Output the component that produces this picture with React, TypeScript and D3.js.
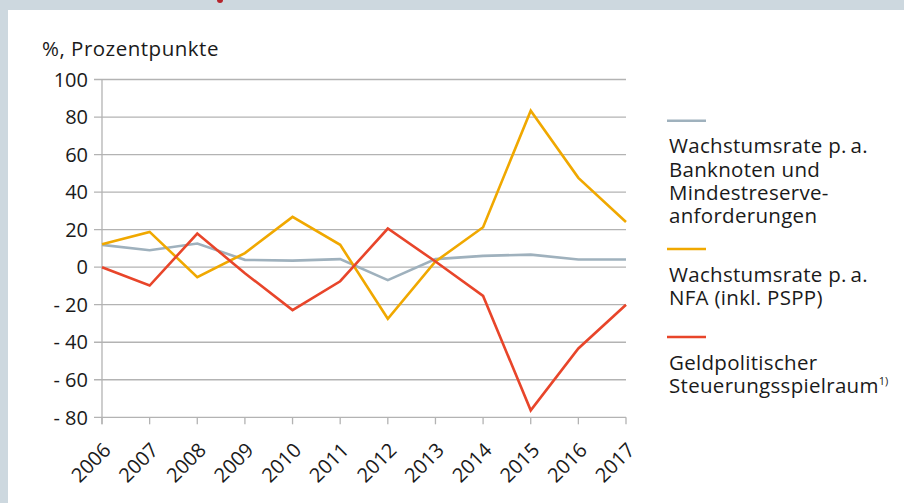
import React from "react";
import * as d3 from "d3";

const years = [2006, 2007, 2008, 2009, 2010, 2011, 2012, 2013, 2014, 2015, 2016, 2017];
const banknoten = [11.9, 9.0, 12.6, 3.9, 3.5, 4.3, -6.9, 4.3, 6.0, 6.7, 4.1, 4.1];
const nfa = [12.2, 18.8, -5.3, 7.5, 26.8, 11.9, -27.5, 3.0, 21.3, 83.4, 47.6, 24.1];
const spielraum = [0, -9.8, 17.9, -3.2, -22.9, -7.5, 20.6, 3.0, -15.3, -76.3, -43.3, -20.0];
const yTicks = [100, 80, 60, 40, 20, 0, -20, -40, -60, -80];

const series = [
  { name: ["Wachstumsrate p.\u2009a.", "Banknoten und", "Mindestreserve-", "anforderungen"], values: banknoten, color: "#9fb1bd" },
  { name: ["Wachstumsrate p.\u2009a.", "NFA (inkl. PSPP)"], values: nfa, color: "#f0a800" },
  { name: ["Geldpolitischer", "Steuerungsspielraum"], values: spielraum, color: "#e8452a", sup: "1)" },
];

const W = 904;
const H = 503;
const font = "'Open Sans', 'Noto Sans', sans-serif";

export default function App() {
  const x = d3.scaleLinear().domain([2006, 2017]).range([102, 626]);
  const y = d3.scaleLinear().domain([-80, 100]).range([417.3, 79.5]);
  const line = d3
    .line<number>()
    .x((_, i) => x(years[i]))
    .y((d) => y(d));

  const legendTop = [120.7, 249, 337];

  return (
    <svg width={W} height={H} style={{ position: "absolute", left: 0, top: 0 }} fontFamily={font}>
      <rect x={0} y={0} width={W} height={H} fill="#cdd8df" />
      <rect x={8} y={10} width={W - 8} height={H - 10} fill="#ffffff" />
      <circle cx={220} cy={0} r={3} fill="#b5232b" />
      <text x={42} y={56} fontSize={20.5} letterSpacing={0.5} fill="#1a1a1a">%, Prozentpunkte</text>
      {yTicks.map((t) => (
        <g key={t}>
          <line x1={94} x2={626} y1={y(t)} y2={y(t)} stroke="#b3b3b3" strokeWidth={1.3} />
          <text x={88} y={y(t)} dy="0.36em" textAnchor="end" fontSize={20} fill="#1a1a1a">
            {t < 0 ? `- ${Math.abs(t)}` : `${t}`}
          </text>
        </g>
      ))}
      <line x1={102} x2={102} y1={y(100)} y2={y(-80) + 7} stroke="#b3b3b3" strokeWidth={1.3} />
      {years.map((yr) => (
        <g key={yr}>
          <line x1={x(yr)} x2={x(yr)} y1={y(-80)} y2={y(-80) + 7} stroke="#b3b3b3" strokeWidth={1.3} />
          <text
            transform={`translate(${x(yr) + 10},${y(-80) + 34}) rotate(-45)`}
            textAnchor="end"
            fontSize={20}
            fill="#1a1a1a"
          >
            {yr}
          </text>
        </g>
      ))}
      {series.map((s) => (
        <path key={s.color} d={line(s.values) || ""} fill="none" stroke={s.color} strokeWidth={2.6} strokeLinejoin="miter" />
      ))}
      {series.map((s, i) => (
        <g key={"l" + i}>
          <line x1={667} x2={706} y1={legendTop[i]} y2={legendTop[i]} stroke={s.color} strokeWidth={2.6} />
          {s.name.map((n, j) => (
            <text key={j} x={669} y={legendTop[i] + 32.5 + j * 23.3} fontSize={20.5} letterSpacing={0.3} fill="#1a1a1a">
              {n}
              {s.sup && j === s.name.length - 1 ? (
                <tspan fontSize={11} dy={-8} letterSpacing={0}>{s.sup}</tspan>
              ) : null}
            </text>
          ))}
        </g>
      ))}
    </svg>
  );
}
